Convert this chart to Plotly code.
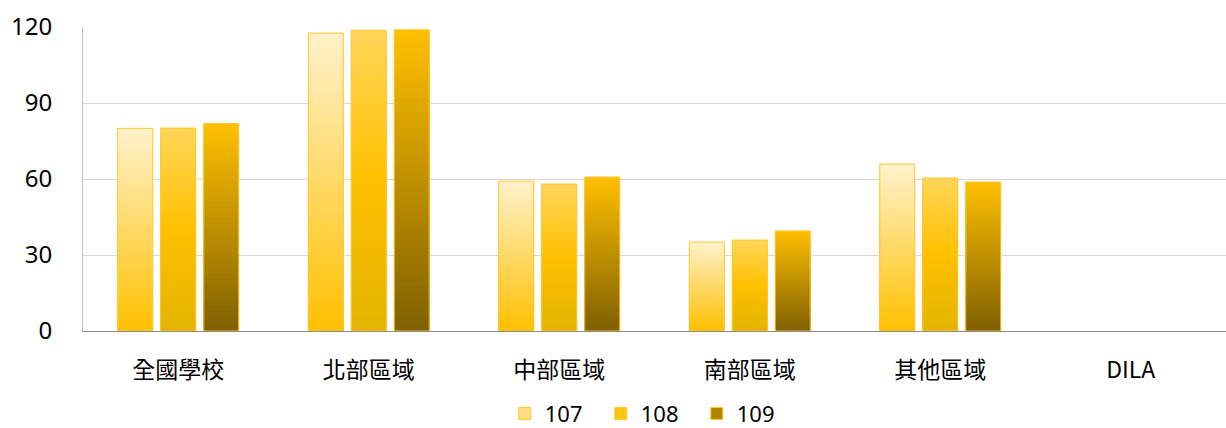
import plotly.graph_objects as go

categories = ["全國學校", "北部區域", "中部區域", "南部區域", "其他區域", "DILA"]
years = ["107", "108", "109"]
v107 = [80.0, 117.6, 59.2, 35.1, 65.9, None]
v108 = [80.1, 118.7, 58.0, 35.9, 60.4, None]
v109 = [81.9, 118.9, 60.8, 39.5, 58.8, None]
series = [v107, v108, v109]

# gradient stops (bottom -> top)
gradients = [
    [(0.0, "#FFC000"), (1.0, "#FFF2CC")],
    [(0.0, "#E2B400"), (0.5, "#FFC000"), (1.0, "#FFD659")],
    [(0.0, "#7F6000"), (1.0, "#FFC000")],
]
legend_colors = ["#FFDD80", "#FFC60F", "#B08400"]
border = "#FFC72C"


def hex2rgb(h):
    h = h.lstrip("#")
    return tuple(int(h[i:i + 2], 16) for i in (0, 2, 4))


def color_at(stops, t):
    for (t0, c0), (t1, c1) in zip(stops[:-1], stops[1:]):
        if t0 <= t <= t1:
            f = (t - t0) / (t1 - t0)
            a, b = hex2rgb(c0), hex2rgb(c1)
            return "rgb(%d,%d,%d)" % tuple(round(a[i] + (b[i] - a[i]) * f) for i in range(3))
    return stops[-1][1]


N = 40
fig = go.Figure()
for yi, (yr, vals) in enumerate(zip(years, series)):
    for j in range(N, 0, -1):
        t = (j - 0.5) / N
        fig.add_trace(go.Bar(
            x=categories,
            y=[None if v is None else v * j / N for v in vals],
            offsetgroup=yr,
            marker=dict(color=color_at(gradients[yi], t), line=dict(width=0)),
            showlegend=False, hoverinfo="skip",
        ))
    fig.add_trace(go.Bar(
        x=categories, y=vals, offsetgroup=yr, name=yr,
        marker=dict(color="rgba(0,0,0,0)", line=dict(color=border, width=1)),
        showlegend=False,
    ))
    fig.add_trace(go.Bar(
        x=[categories[0]], y=[None], offsetgroup=yr, name=yr,
        marker=dict(color=legend_colors[yi], line=dict(color=border, width=1)),
        showlegend=True,
    ))

fig.update_layout(
    width=1226, height=428,
    margin=dict(l=83, r=0, t=27, b=97, autoexpand=False),
    paper_bgcolor="white", plot_bgcolor="white",
    barmode="group", bargap=0.323, bargroupgap=0.186,
    font=dict(family="Noto Sans CJK TC, Noto Sans", color="#000000", size=18),
    xaxis=dict(
        showline=True, linecolor="#8C8C8C", linewidth=1,
        ticks="", ticklabelstandoff=18, automargin=False,
        tickfont=dict(size=23, family="Noto Sans CJK TC"),
        showgrid=False,
    ),
    yaxis=dict(
        range=[0, 120], tickvals=[0, 30, 60, 90, 120],
        showline=True, linecolor="#BFBFBF", linewidth=1,
        gridcolor="#D9D9D9", gridwidth=1,
        ticks="", ticklabelstandoff=25, automargin=False,
        tickfont=dict(size=24, family="Noto Sans"),
        zeroline=False,
    ),
    legend=dict(
        orientation="h", x=0.495, xanchor="center", y=-0.272, yanchor="middle",
        font=dict(size=22, family="Noto Sans"), traceorder="normal",
        itemwidth=30, itemclick=False, entrywidth=51, entrywidthmode="pixels",
    ),
    showlegend=True,
)

fig.write_html(
    "out.html",
    config={"displayModeBar": False},
    post_script="document.body.style.margin='0';document.body.style.overflow='hidden';",
)
